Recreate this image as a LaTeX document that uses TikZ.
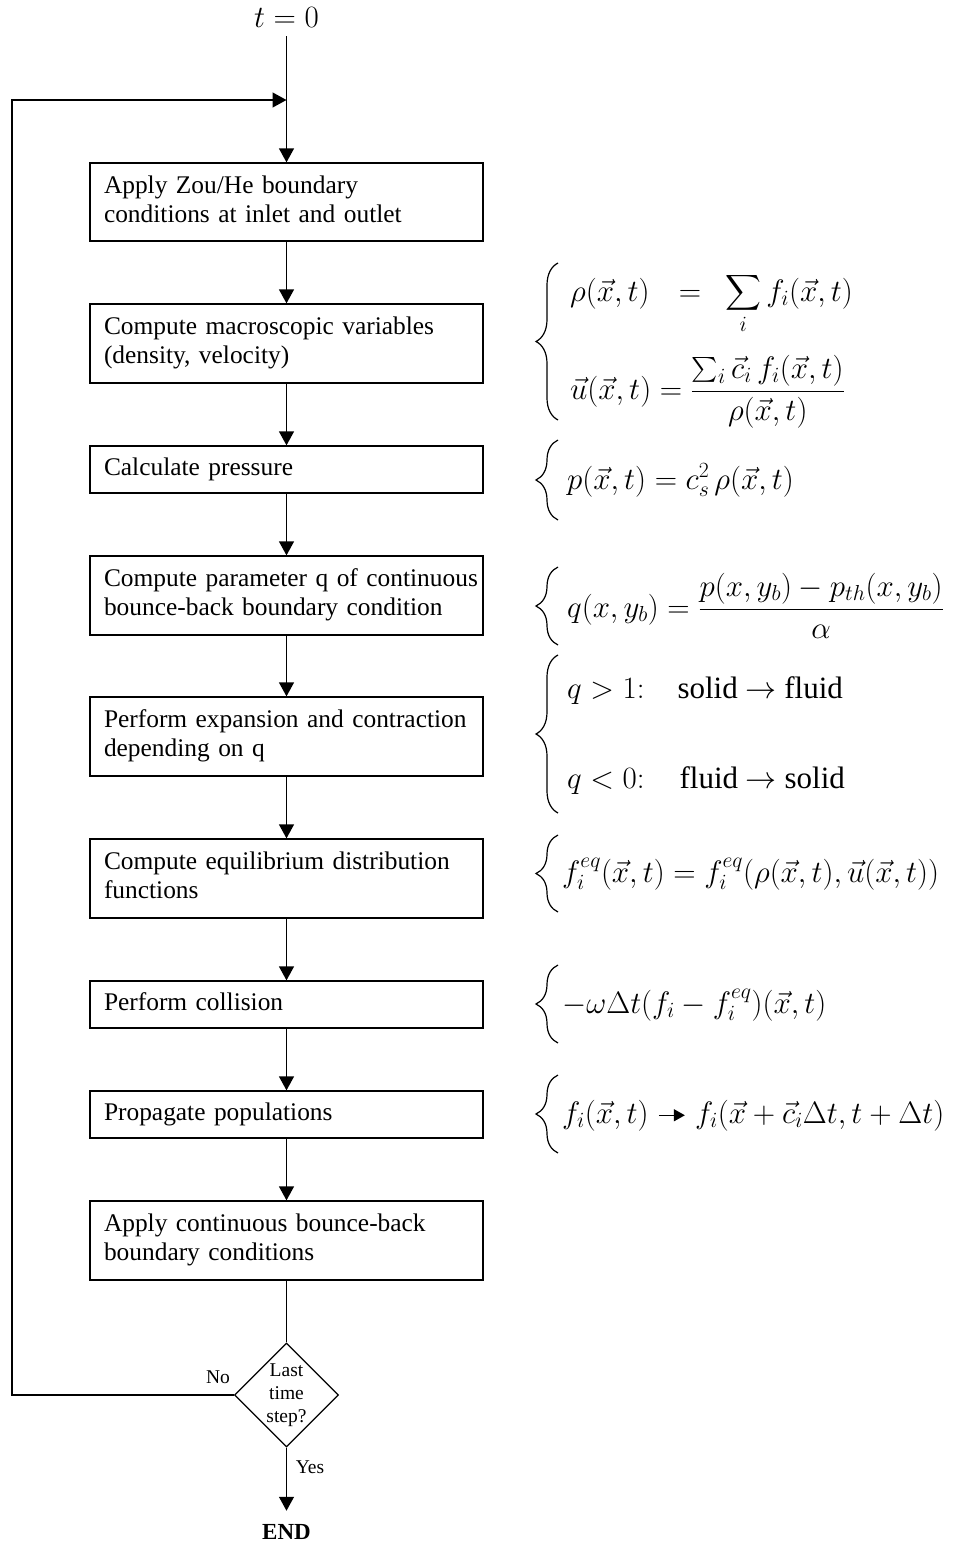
\RequirePackage{fix-cm}
\documentclass[tikz,border=0pt]{standalone}
\usepackage{amsmath}
\usepackage{fontspec}
\setmainfont{Liberation Serif}
\usetikzlibrary{arrows.meta,shapes.geometric,decorations.pathreplacing,positioning}
\newcommand{\boxline}[1]{\mbox{\strut #1}}
\newcommand{\txtsize}{\fontsize{31}{36}\selectfont}
\begin{document}
\begin{tikzpicture}[x=1pt,y=-1pt,
  box/.style={draw, line width=1.3pt, text width=365pt, inner xsep=14pt, inner ysep=0pt,
    align=left, font=\fontsize{25.4}{29}\selectfont},
  arr/.style={line width=1.3pt, -{Triangle[width=15pt,length=14pt]}},
  ln/.style={line width=1.3pt},
  brc/.style={decorate, decoration={brace, amplitude=22pt}, line width=1.2pt},
  mth/.style={anchor=base west, inner sep=0pt, font=\fontsize{31}{37}\selectfont},
  lbl/.style={anchor=base, inner sep=0pt, font=\fontsize{19.5}{23}\selectfont}
]
\useasboundingbox (0,0) rectangle (954,1544);

% start
\node[anchor=base, inner xsep=0pt, inner ysep=8pt, font=\fontsize{31}{37}\selectfont] (t0) at (286.5,28) {$t=0$};
\coordinate (lp) at (286.5,100);
\coordinate (corner) at (12,1395);

% boxes
\node[box, minimum height=78pt] (b1) at (286.5,202) {\boxline{Apply Zou/He boundary}\\\boxline{conditions at inlet and outlet}};
\node[box, minimum height=79pt] (b2) at (286.5,343.5) {\boxline{Compute macroscopic variables}\\\boxline{(density, velocity)}};
\node[box, minimum height=47pt] (b3) at (286.5,469.5) {\boxline{Calculate pressure}};
\node[box, minimum height=79pt] (b4) at (286.5,595.5) {\boxline{Compute parameter q of continuous}\\\boxline{bounce-back boundary condition}};
\node[box, minimum height=79pt] (b5) at (286.5,736.5) {\boxline{Perform expansion and contraction}\\\boxline{depending on q}};
\node[box, minimum height=79pt] (b6) at (286.5,878.5) {\boxline{Compute equilibrium distribution}\\\boxline{functions}};
\node[box, minimum height=47pt] (b7) at (286.5,1004.5) {\boxline{Perform collision}};
\node[box, minimum height=47pt] (b8) at (286.5,1114.5) {\boxline{Propagate populations}};
\node[box, minimum height=79pt] (b9) at (286.5,1240.5) {\boxline{Apply continuous bounce-back}\\\boxline{boundary conditions}};

% decision
\node[draw, diamond, aspect=1, minimum size=104pt, inner sep=0pt, line width=1.3pt,
  align=center, font=\fontsize{19.5}{23}\selectfont] (dec) at (286.5,1395) {Last\\time\\step?};
\node[lbl] (no) at (218,1383) {No};
\node[lbl] (yes) at (310,1473) {Yes};
\node[anchor=base, inner xsep=0pt, inner ysep=13pt, font=\fontsize{23}{27}\selectfont\bfseries] (end) at (286.5,1539) {END};

% connectors
\draw[arr] (t0.south) -- (b1.north);
\draw[arr] (b1.south) -- (b2.north);
\draw[arr] (b2.south) -- (b3.north);
\draw[arr] (b3.south) -- (b4.north);
\draw[arr] (b4.south) -- (b5.north);
\draw[arr] (b5.south) -- (b6.north);
\draw[arr] (b6.south) -- (b7.north);
\draw[arr] (b7.south) -- (b8.north);
\draw[arr] (b8.south) -- (b9.north);
\draw[ln] (b9.south) -- (dec.north);
\draw[arr] (dec.south) -- (end.north);
\draw[arr] (dec.west) -- (corner) |- (lp);

% braces
\draw[brc] (558,420) -- (558,263);
\draw[brc] (558,520) -- (558,440);
\draw[brc] (558,645) -- (558,567);
\draw[brc] (558,813) -- (558,655);
\draw[brc] (558,912) -- (558,835);
\draw[brc] (558,1043) -- (558,965);
\draw[brc] (558,1153) -- (558,1075);

% formulas
\node[mth] (f1a) at (570,301) {$\displaystyle\rho(\vec x,t)\mskip12mu=\mskip9mu\sum_i f_i(\vec x,t)$};
\node[mth] (f1b) at (570,399) {$\vec u(\vec x,t) = \dfrac{\sum_i \vec c_i\, f_i(\vec x,t)}{\rho(\vec x,t)}$};
\node[mth] (f2) at (567,489) {$p(\vec x,t) = c_s^2\,\rho(\vec x,t)$};
\node[mth] (f3) at (567,617) {$q(x,y_b) = \dfrac{p(x,y_b) - p_{th}(x,y_b)}{\alpha}$};
\node[mth] (f4a) at (567,698) {$q>1{:}$\hspace{33pt}\txtsize solid $\rightarrow$ fluid};
\node[mth] (f4b) at (567,788) {$q<0{:}$\hspace{35pt}\txtsize fluid $\rightarrow$ solid};
\node[mth] (f5) at (562,882) {$f_i^{eq}(\vec x,t) = f_i^{eq}(\rho(\vec x,t),\vec u(\vec x,t))$};
\node[mth] (f6) at (562,1013) {$-\omega\Delta t(f_i - f_i^{eq})(\vec x,t)$};
\node[mth] (f7a) at (562,1123) {$f_i(\vec x,t)$};
\node[anchor=west, inner sep=0pt, font=\fontsize{31}{37}\selectfont, right=46pt of f7a] (f7b) {$f_i(\vec x+\vec c_i\Delta t,t+\Delta t)$};
\draw[line width=1.3pt, -{Triangle[width=12pt,length=11pt]}, shorten <=10pt, shorten >=10pt] (f7a.east) -- (f7b.west);
\end{tikzpicture}
\end{document}
